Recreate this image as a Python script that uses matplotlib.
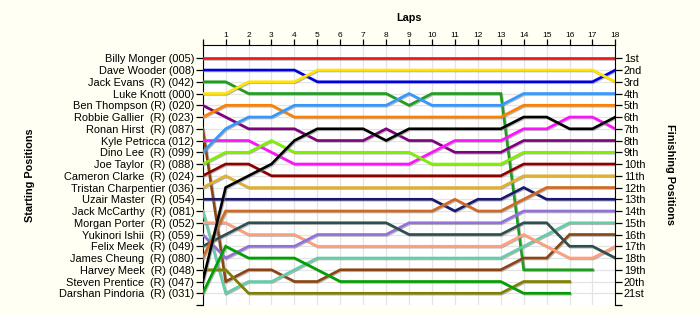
import numpy as np
import matplotlib

matplotlib.use("Agg")
import matplotlib.pyplot as plt
import matplotlib.patheffects as pe

# starting grid order (top to bottom)
drivers = [
    "Billy Monger (005)", "Dave Wooder (008)", "Jack Evans  (R) (042)", "Luke Knott (000)",
    "Ben Thompson (R) (020)", "Robbie Gallier  (R) (023)", "Ronan Hirst  (R) (087)",
    "Kyle Petricca (012)", "Dino Lee  (R) (099)", "Joe Taylor  (R) (088)",
    "Cameron Clarke  (R) (024)", "Tristan Charpentier (036)", "Uzair Master  (R) (054)",
    "Jack McCarthy  (R) (081)", "Morgan Porter  (R) (052)", "Yukinori Ishii  (R) (059)",
    "Felix Meek  (R) (049)", "James Cheung  (R) (080)", "Harvey Meek  (R) (048)",
    "Steven Prentice  (R) (047)", "Darshan Pindoria  (R) (031)",
]
finish_labels = ["1st", "2nd", "3rd"] + [f"{i}th" for i in range(4, 21)] + ["21st"]
laps = list(range(0, 19))

# position at laps 0..18 (None = no longer running)
pos_005 = [1] * 19
pos_008 = [2, 2, 2, 2, 2, 3, 3, 3, 3, 3, 3, 3, 3, 3, 3, 3, 3, 3, 2]
pos_042 = [3, 3, 4, 4, 4, 4, 4, 4, 4, 5, 4, 4, 4, 4, 19, 19, 19, 19, None]
pos_000 = [4, 4, 3, 3, 3, 2, 2, 2, 2, 2, 2, 2, 2, 2, 2, 2, 2, 2, 3]
pos_020 = [5, 6, 7, 7, 7, 8, 8, 8, 7, 8, 8, 9, 9, 9, 8, 8, 8, 8, 8]
pos_023 = [6, 5, 5, 5, 6, 6, 6, 6, 6, 6, 6, 6, 6, 6, 5, 5, 5, 5, 5]
pos_087 = [7, 20, 19, 19, 20, 20, 19, 19, 19, 19, 19, 19, 19, 19, 18, 18, 16, 16, 16]
pos_012 = [8, 8, 8, 9, 10, 10, 10, 10, 10, 10, 9, 8, 8, 8, 7, 7, 6, 6, 7]
pos_099 = [9, 7, 6, 6, 5, 5, 5, 5, 5, 4, 5, 5, 5, 5, 4, 4, 4, 4, 4]
pos_088 = [10, 9, 9, 8, 9, 9, 9, 9, 9, 9, 10, 10, 10, 10, 9, 9, 9, 9, 9]
pos_024 = [11, 10, 10, 11, 11, 11, 11, 11, 11, 11, 11, 11, 11, 11, 10, 10, 10, 10, 10]
pos_036 = [12, 11, 12, 12, 12, 12, 12, 12, 12, 12, 12, 12, 12, 12, 11, 11, 11, 11, 11]
pos_054 = [13, 13, 13, 13, 13, 13, 13, 13, 13, 13, 13, 14, 13, 13, 12, 13, 13, 13, 13]
pos_081 = [14, 21, 20, 20, 19, 18, 18, 18, 18, 18, 18, 18, 18, 18, 17, 16, 15, 15, 15]
pos_052 = [15, 15, 16, 16, 16, 17, 17, 17, 17, 17, 17, 17, 17, 17, 16, 17, 18, 18, 17]
pos_059 = [16, 18, 17, 17, 17, 16, 16, 16, 16, 15, 15, 15, 15, 15, 14, 14, 14, 14, 14]
pos_049 = [17, 16, 15, 15, 15, 15, 15, 15, 15, 16, 16, 16, 16, 16, 15, 15, 17, 17, 18]
pos_080 = [18, 14, 14, 14, 14, 14, 14, 14, 14, 14, 14, 13, 14, 14, 13, 12, 12, 12, 12]
pos_048 = [19, 19, 21, 21, 21, 21, 21, 21, 21, 21, 21, 21, 21, 21, 20, 20, 20, None, None]
pos_047 = [20, 12, 11, 10, 8, 7, 7, 7, 8, 7, 7, 7, 7, 7, 6, 6, 7, 7, 6]
pos_031 = [21, 17, 18, 18, 18, 19, 20, 20, 20, 20, 20, 20, 20, 20, 21, 21, 21, None, None]

positions = [pos_005, pos_008, pos_042, pos_000, pos_020, pos_023, pos_087, pos_012,
             pos_099, pos_088, pos_024, pos_036, pos_054, pos_081, pos_052, pos_059,
             pos_049, pos_080, pos_048, pos_047, pos_031]

colors = ["#f01414", "#0000dc", "#1e9e1e", "#ffe400", "#800080", "#ff8000", "#8b4513",
          "#ff10ff", "#3399ff", "#80f000", "#8b0000", "#e0b030", "#191970", "#66cdaa",
          "#ffa07a", "#9370db", "#2f4f4f", "#d2691e", "#808000", "#000000", "#00a000"]

BG = "#fffff4"
fig = plt.figure(figsize=(7, 3.15), dpi=100)
fig.patch.set_facecolor(BG)
ax = fig.add_axes([202.7 / 700, 10 / 315, 412.7 / 700, 260 / 315])
ax.set_facecolor("white")
ax.set_xlim(0, 18)
ax.set_ylim(22, -0.13)

for x in laps:
    ax.axvline(x, color="#e4e4e4", lw=0.9, zorder=0)
for y in range(1, 22):
    ax.axhline(y, color="#e4e4e4", lw=0.9, zorder=0)

shadow = [pe.SimpleLineShadow(offset=(0.7, -0.7), shadow_color="#888888", alpha=0.6), pe.Normal()]
for p, c in zip(positions, colors):
    y = np.array([np.nan if v is None else v for v in p], dtype=float)
    ax.plot(laps, y, color=c, lw=1.9, solid_joinstyle="miter", path_effects=shadow, zorder=3)

font = "Liberation Sans"
ax.xaxis.tick_top()
ax.set_xticks(laps)
ax.set_xticklabels([""] + [str(i) for i in laps[1:]], fontsize=6, family=font)
ax.tick_params(axis="x", length=4, width=0.9, pad=0.5, color="black")
ax.set_yticks(list(range(1, 22)) + [22])
ax.set_yticklabels(drivers + [""], fontsize=7.9, family=font)
ax.tick_params(axis="y", length=5, width=0.9, pad=1)
ax.spines["bottom"].set_visible(False)
ax.spines["right"].set_visible(False)

ax2 = ax.twinx()
ax2.set_ylim(22, -0.13)
ax2.set_yticks(list(range(1, 22)) + [22])
ax2.set_yticklabels(finish_labels + [""], fontsize=7.9, family=font)
ax2.tick_params(axis="y", length=5, width=0.9, pad=1)
ax2.spines["bottom"].set_visible(False)
ax2.spines["left"].set_visible(False)
ax2.spines["top"].set_visible(False)

fig.text(409 / 700, 1 - 18 / 315, "Laps", ha="center", va="center", fontsize=7.8,
         fontweight="bold", family=font)
fig.text(30 / 700, 1 - 175 / 315, "Starting Positions", ha="center", va="center",
         rotation=90, fontsize=7.8, fontweight="bold", family=font)
fig.text(670 / 700, 1 - 175 / 315, "Finishing Positions", ha="center", va="center",
         rotation=270, fontsize=7.8, fontweight="bold", family=font)

fig.savefig("out.png", dpi=100, facecolor=BG)
